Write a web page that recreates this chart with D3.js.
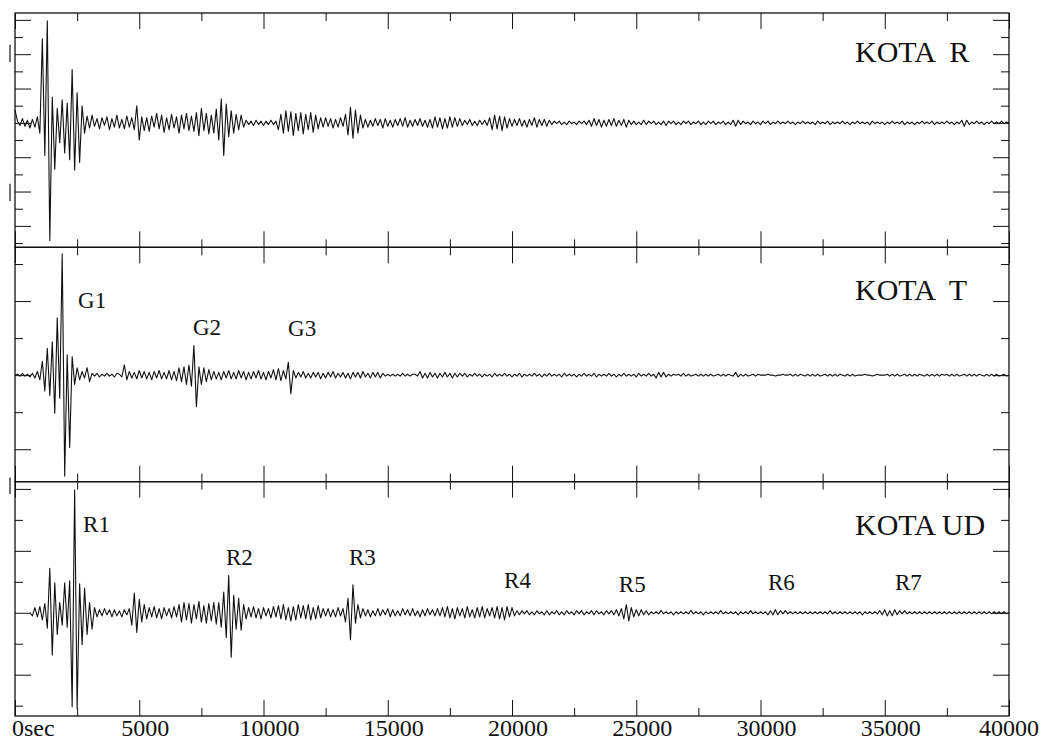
<!DOCTYPE html>
<html>
<head>
<meta charset="utf-8">
<script src="https://cdn.jsdelivr.net/npm/d3@7"></script>
<style>
  html, body { margin: 0; padding: 0; background: #fff; }
  svg { display: block; }
  text { font-family: "Liberation Serif", "Times New Roman", serif; fill: #111; }
</style>
</head>
<body>
<svg id="chart" width="1043" height="742"></svg>
<script>
// ---- Data -------------------------------------------------------------
// Long-period records at station KOTA: radial (R), transverse (T), vertical (UD).
// Each record is a run of turning-point amplitudes (counts), one every sampleStep seconds.
const sampleStep = 100;            // seconds between samples
const timeTicks = [0, 5000, 10000, 15000, 20000, 25000, 30000, 35000, 40000];
const timeLabels = ["0sec", "5000", "10000", "15000", "20000", "25000", "30000", "35000", "40000"];
const stationNames = ["KOTA  R", "KOTA  T", "KOTA UD"];

const startR = 0;
const ampR = [
  15, 2, -3, 5, -4, 3, -6, 4, -5, 7, -12,
  98, -38, 119, -137,
  30, -54, 17, -23, 27, -35, 23, -43, 62, -55, 35, -46, 20, -12,
  8, -6, 9, -4, 5, -7, 6, -3, 7, -8, 5, -5, 9, -6, 4, -7, 8, -5,
  6, -8, 20, -20, 7,
  -9, 6, -10, 8, -5, 11, -7, 9, -11, 6, -8, 10, -6, 7, -12, 9, -7, 11, -9, 8, -10,
  12, -15, 17, -9, 11, -13, 9, -12,
  16, -20, 28, -38, 22, -16, 14, -12, 10, -8, 9, -5,
  3, -2, 2, -3, 3, -2, 2, -3, 2, -2, 3, -2, 2,
  -8, 10, -12, 14, -10, 13, -15, 11, -9, 12, -13, 10, -8, 12, -11, 9, -7, 6,
  -5, 6, -4, 5, -6, 4, -5, 6, -4,
  10, -14, 18, -18, 15, -12, 9, -6,
  4, -5, 3, -4, 5, -3, 4, -6, 5, -4, 3, -5, 4, -3, 5, -4, 6, -5, 3, -4, 4, -3, 5, -4, 3, -5, 4,
  -6, 7, -5, 6, -7, 5, -6, 7, -5, 6, -4, 5,
  -3, 3, -2, 4, -3, 2, -3, 3, -2, 3, -3,
  6, -8, 9, -7, 8, -9, 7, -6, 5, -4,
  4, -3, 5, -4, 3, -5, 4, -3, 6, -5, 4, -3, 4, -4, 3, -2,
  2, -1, 2, -2, 1, -2, 2, -1, 1, -2, 2, -1, 2, -2,
  3, -4, 5, -3, 4, -5, 3, -4, 4, -3, 5, -4, 3, -3, 4, -5, 3, -2,
  2, -2, 1, -2, 3, -2, 2, -1, 2, -2, 1, -2, 2, -3, 2, -1, 2, -2, 1, -2, 2, -1, 2, -2, 1, -1, 2,
  -2, 1, -2, 2, -1, 2, -2, 1, -1, 2, -2, 1, -2, 3, -4, 3, -2, 2, -1, 1, -2, 2, -1, 1, -2, 2, -1, 2, -2, 1, -1, 2, -1,
  1, -1, 2, -1, 1, -2, 1, -1, 2, -1, 1, -1, 1, -2, 2, -1, 1, -1, 2, -2,
  1, -1, 1, -1, 2, -1, 1, -2, 1, -1, 2, -1, 1, -1, 1, -2, 2, -1, 1, -1,
  1, -2, 1, -1, 2, -1, 1, -1, 2, -2, 1, -1, 1, -2, 1, -1, 2, -1, 1, -1,
  2, -2, 1, -1, 1, -1, 2, -1, 1, -2, 1, -1,
  3, -4, 3, -2, 1, -1, 2, -1, 1, -2, 1, -1, 2, -1, 1, -1, 2, -1, 1, 0
];

const startT = 0;
const ampT = [
  0, 1, -1, 2, -1, 1, -2, 2, -3, 4, -5,
  15, -17, 29, -22,
  36, -41, 62, -25, 131, -109, 22, -78, 20, -10,
  8, -5, 4, -3,
  8, -7,
  2, -1, 2, -2, 1, -1, 2, -1, 1, -2, 2, 1, -2,
  11, -5,
  4, -3, 3, -4, 5, -3, 4, -4, 3, -5, 4, -3, 5, -4, 3, -4, 5, -5, 4,
  -6, 8, -7, 9, -10, 11, -12,
  32, -34,
  9, -10, 8, -7, 6, -5, 4,
  -4, 3, -5, 4, -3, 5, -4, 3, -4, 5, -3, 4, -5, 3, -4, 4, -3, 5, -4, 3, -5, 4, -3,
  6, -5, 7, -6, 5, -4,
  14, -20,
  5, -3, 3, -2, 4, -3, 2, -3, 3, -2, 3, -4, 2, -3, 3, -2, 4, -3, 2, -2,
  3, -3, 2, -4, 3, -2, 3, -3, 4, -2, 2, -3, 3, -2, 3, -3, 2,
  -1, 1, -1, 1, -1, 1, -1, 2, -1, 1, -1, 1, 1, -1,
  4, -3,
  2, -3, 3, -2, 2, -3, 2, -2, 3, -2, 2, -3, 2, -2, 2, -1, 2, -2,
  1, -1, 2, -1, 1, -2, 1, -1, 1, -2, 2, -1, 1, -1, 2, -1, 1, -2, 1, -1,
  2, -2, 1, -1, 1, -1, 2, -1, 1, -2, 1, -1, 2, -1, 1, -1, 1, -2, 2, -1,
  1, -1, 1, -2, 1, -1, 2, -1, 1, -1, 2, -2, 1, -1, 1, -1, 2, -1, 1, -2,
  1, -1, 2, -1, 1, -1, 1, -2, 2, -1, 1, -1, 2, -1, 1,
  -3, 3, -2, 3, -2,
  1, -1, 1, 0, 1, -1, 2, -1, 1, -1, 0, 1, -1, 1, -1, 1, -1, 1, -1, 0, 1, -1, 1, -1, 1, 0, -1,
  3, -2,
  1, -1, 1, -1, 0, 1, -1, 1, 0,
  0, 0, 1, 0, 0, -1, 0, 0, 1, 0, 0,
  1, -1, 1, -1, 1, 0, -1, 1, -1, 1, -1, 1, -1, 0, 1, -1, 1, -1, 1, -1, 1, 0, -1, 1, -1, 1, -1, 0,
  0, 0, 1, 0, 0, -1, 0, 1, 0, 0, 0,
  1, -1, 1, -1, 1, -1, 0, 1, -1, 1, -1, 1, -1, 1, 0, -1, 1, -1, 1, -1,
  1, -1, 1, 0, 1, -1, 1, -1, 1, -1, 0, 1, -1, 1, -1, 1, -1, 1, 0, -1,
  1, -1, 1, -1, 1, -1, 0, 1, -1, 0
];

const startUD = 600;
const ampUD = [
  0, -3, 5, -4, 6, -7, 9,
  -15, 43, -41, 29, -21, 10, -12, 29, -14, 31, -91, 119, -93, 28, -31, 24, -21, 10, -16, 5,
  -4, 3, -3, 4, -2, 3, -4, 3, -3, 2, -4, 3, -2, 4,
  -12, 19, -19, 13, -9, 8, -6,
  5, -4, 6, -5, 4, -6, 5, -3, 4, -5, 6, -4,
  8, -9, 10, -7, 9, -10, 8, -6, 11, -9, 7, -10, 9, -8, 10, -11,
  10, -14, 20, -24, 36, -43, 17, -16, 14, -17, 8,
  -6, 5, -4, 6, -5, 4, -6, 5, -3, 4, -5, 6, -4,
  7, -6, 8, -7, 5, -8, 6, -7, 8, -5, 7, -6, 8, -7, 5, -6, 7, -5,
  4, -3, 4, -4, 3, -4, 5, -3, 4,
  -9, 14, -26, 27, -10, 8, -5,
  4, -3, 3, -4, 2, -3, 4, -3, 3, -2, 4, -4, 3, -3, 2, -3, 4, -2, 3, -3,
  4, -3, 2, -4, 3, -3, 4, -2, 3, -3, 4, -3,
  5, -4, 6, -5, 4, -6, 5, -3, 4, -5, 6, -4, 3, -5, 5, -4, 6, -5, 4, -3, 5,
  -5, 6, -6, 5, -7, 6, -4, 5, -3, 2,
  -2, 2, -1, 2, -2, 1, -2, 2, -1, 1, -2, 2, -2, 1, -1, 2, -2, 1, -2, 2,
  -1, 1, -2, 2, -1, 2, -2, 1, -1, 2, -2, 2, -1, 1, -2, 2, -1, 2, -2, 3,
  -3, 4, -6, 8, -8, 5, -4, 3, -3, 3, -2, 2, -2,
  1, -1, 1, -1, 2, -1, 1, -1, 1, -2, 1, -1, 1, -1, 1, -1, 2, -1, 1, -1,
  1, -2, 1, -1, 1, -1, 1, -1, 2, -1, 1, -1, 1, -1, 1, -2, 1, -1, 1, -1,
  2, -1, 1, -1, 1, -1, 1,
  -2, 2, -2, 3, -2, 2, -1, 2, -1, 1,
  -1, 1, -1, 1, -1, 1, -1, 1, -1, 1, -1, 1, -1, 1, -1, 2, -1, 1, -1, 1,
  -1, 1, -1, 1, -1, 1, -1, 1, -2, 1, -1, 1, -1, 1, -1, 2,
  -2, 3, -3, 2, -3, 3, -2, 2, -1, 2, -1, 1,
  -1, 1, -1, 1, -1, 1, -1, 1, -1, 1, -1, 1, -1, 1, -1, 1, -1, 1, -1, 1,
  -1, 1, -1, 1, -1, 1, -1, 1, -1, 1, -1, 1, -1, 1, -1, 1, -1, 1, -1, 0
];

// Amplitude ranges (counts) and tick spacing of each record
const domainR = [-145, 128], domainT = [-115, 138], domainUD = [-100, 127];
const tickStepR = 20, tickStepT = 40, tickStepUD = 30;

// Calibration bars drawn beside the frame (counts)
const calibR = [[71, 91], [-91, -71]];
const calibUD = [[115, 131]];

// Phase picks: name, label time (s) and label level (counts)
const phaseNamesT = ["G1", "G2", "G3"];
const phaseTimesT = [2540, 7160, 10990];
const phaseLevelsT = [73, 43, 42];
const phaseNamesUD = ["R1", "R2", "R3", "R4", "R5", "R6", "R7"];
const phaseTimesUD = [2740, 8490, 13440, 19680, 24300, 30300, 35410];
const phaseLevelsUD = [78, 46, 46, 24, 20, 22, 22];

// ---- Layout -----------------------------------------------------------
const frameLeft = 15, frameRight = 1009, frameTop = 13, frameBottom = 716;
const bandH = (frameBottom - frameTop) / 3;
const nameOffsets = [49, 53, 53];   // baseline of the component name below each panel top
const ink = "#111";

const svg = d3.select("#chart");
const x = d3.scaleLinear().domain([0, 40000]).range([frameLeft, frameRight]);

const panels = [
  { name: stationNames[0], start: startR, amp: ampR, domain: domainR, step: tickStepR, calib: calibR,
    phases: [] },
  { name: stationNames[1], start: startT, amp: ampT, domain: domainT, step: tickStepT, calib: [],
    phases: phaseNamesT.map((n, i) => ({ n, t: phaseTimesT[i], v: phaseLevelsT[i] })) },
  { name: stationNames[2], start: startUD, amp: ampUD, domain: domainUD, step: tickStepUD, calib: calibUD,
    phases: phaseNamesUD.map((n, i) => ({ n, t: phaseTimesUD[i], v: phaseLevelsUD[i] })) }
];

const xMajor = d3.range(0, 40001, 5000);
const xMinor = d3.range(2500, 40000, 5000);

function styleAxis(sel) {
  sel.select(".domain").remove();
  sel.selectAll(".tick line").attr("stroke", ink).attr("stroke-width", 1);
  sel.selectAll(".tick text").remove();
}

panels.forEach((p, k) => {
  const y0 = frameTop + k * bandH, y1 = y0 + bandH;
  const y = d3.scaleLinear().domain(p.domain).range([y1, y0]);
  const g = svg.append("g");

  // time ticks on the top and bottom edges of the panel
  [[xMajor, 16], [xMinor, 8]].forEach(([vals, len]) => {
    g.append("g").attr("transform", `translate(0,${y0})`)
      .call(d3.axisBottom(x).tickValues(vals).tickSize(len).tickFormat(""))
      .call(styleAxis);
    g.append("g").attr("transform", `translate(0,${y1})`)
      .call(d3.axisTop(x).tickValues(vals).tickSize(len).tickFormat(""))
      .call(styleAxis);
  });

  // amplitude ticks on both sides, every other one long
  const yt = d3.range(Math.ceil(p.domain[0] / p.step) * p.step, p.domain[1] + 1e-9, p.step);
  const yMajor = yt.filter(v => Math.round(v / p.step) % 2 === 0);
  const yMinor = yt.filter(v => Math.round(v / p.step) % 2 !== 0);
  [[yMajor, 16], [yMinor, 8]].forEach(([vals, len]) => {
    g.append("g").attr("transform", `translate(${frameLeft},0)`)
      .call(d3.axisRight(y).tickValues(vals).tickSize(len).tickFormat(""))
      .call(styleAxis);
    g.append("g").attr("transform", `translate(${frameRight},0)`)
      .call(d3.axisLeft(y).tickValues(vals).tickSize(len).tickFormat(""))
      .call(styleAxis);
  });

  // the record itself
  const line = d3.line()
    .x((d, i) => x(p.start + i * sampleStep))
    .y(d => y(d))
    .curve(d3.curveLinear);
  g.append("path")
    .datum(p.amp)
    .attr("d", line)
    .attr("fill", "none")
    .attr("stroke", ink)
    .attr("stroke-width", 1.1)
    .attr("stroke-linejoin", "round");

  // calibration bars left of the frame
  g.selectAll(".calib").data(p.calib).enter().append("line")
    .attr("x1", frameLeft - 5).attr("x2", frameLeft - 5)
    .attr("y1", d => y(d[0])).attr("y2", d => y(d[1]))
    .attr("stroke", ink).attr("stroke-width", 1.2);

  // panel frame
  g.append("rect")
    .attr("x", frameLeft).attr("y", y0)
    .attr("width", frameRight - frameLeft).attr("height", bandH)
    .attr("fill", "none").attr("stroke", ink).attr("stroke-width", 1.3);

  // station / component name
  g.append("text")
    .attr("x", 855).attr("y", y0 + nameOffsets[k])
    .style("white-space", "pre")
    .attr("font-size", 30)
    .text(p.name);

  // phase labels
  g.selectAll(".phase").data(p.phases).enter().append("text")
    .attr("x", d => x(d.t)).attr("y", d => y(d.v))
    .attr("font-size", 23)
    .text(d => d.n);
});

// time labels beneath the bottom panel
const lastTick = timeTicks.length - 1;
svg.append("g").selectAll("text").data(timeTicks).enter().append("text")
  .attr("x", (d, i) => i === 0 ? x(d) - 3 : i === lastTick ? x(d) + 30 : x(d) + 6)
  .attr("y", 736)
  .attr("text-anchor", (d, i) => i === 0 ? "start" : i === lastTick ? "end" : "middle")
  .attr("font-size", 24)
  .text((d, i) => timeLabels[i]);
</script>
</body>
</html>
